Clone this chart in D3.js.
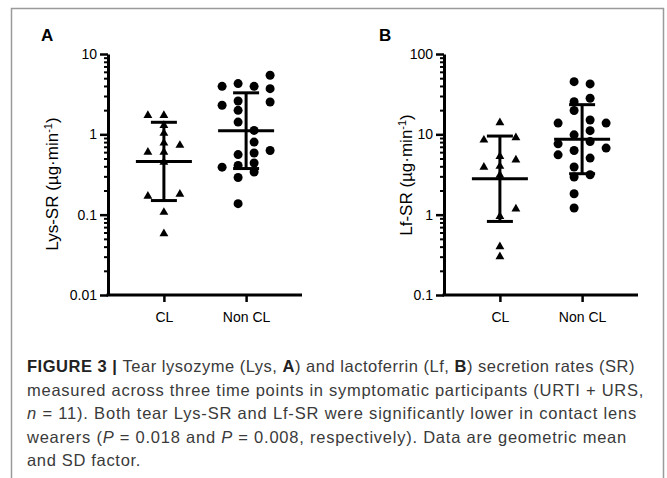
<!DOCTYPE html>
<html>
<head>
<meta charset="utf-8">
<script src="https://cdn.jsdelivr.net/npm/d3@7"></script>
<style>
  body { margin: 0; background: #fff; }
  svg { display: block; font-family: "Liberation Sans", Arial, sans-serif; }
</style>
</head>
<body>
<div class="chart"></div>
<script>
var svgWidth = 667;
var svgHeight = 478;

// categories and tick labels
var categories = ["CL", "Non CL"];
var lysTicks = ["0.01", "0.1", "1", "10"];
var lfTicks = ["0.1", "1", "10", "100"];

// Lys-SR (µg·min-1); lanes = column slot of each symbol
var lysCL     = [1.72, 1.72, 1.29, 1.03, 0.78, 0.73, 0.60, 0.60, 0.45, 0.17, 0.18, 0.107, 0.058];
var lysCLLane = [-1, 0, 0, 0, 0, 1, -1, 0, 0, -1, 1, 0, 0];
var lysNonCL     = [3.96, 4.28, 3.96, 5.43, 3.70, 2.30, 2.60, 2.53, 1.99, 1.42, 1.12, 0.80, 0.56, 0.585, 0.63, 0.39, 0.41, 0.44, 0.34, 0.29, 0.137];
var lysNonCLLane = [-1.5, -0.5, 0.5, 1.5, 1.5, -1.5, -0.5, 1.5, -0.5, -0.5, 0.5, 0.5, -0.5, 0.5, 1.5, -1.5, -0.5, 0.5, 0.5, -0.5, -0.5];
var lysGeoMean = [0.46, 1.11];
var lysSDFactor = [3.07, 2.96];

// Lf-SR (µg·min-1), panel B
var lfCL     = [14.0, 8.5, 9.1, 5.3, 4.8, 4.0, 3.9, 3.1, 0.95, 1.18, 0.40, 0.30];
var lfCLLane = [0, -1, 1, 0, 1, 0, -1, 0, 0, 1, 0, 0];
var lfNonCL     = [45.3, 42.4, 25.5, 28.1, 19.8, 13.8, 15.1, 13.8, 11.1, 9.86, 7.62, 8.14, 6.74, 5.56, 6.29, 5.06, 3.92, 2.94, 3.14, 1.82, 1.21];
var lfNonCLLane = [-0.5, 0.5, -0.5, 0.5, -0.5, -1.5, 0.5, 1.5, 0.5, -0.5, -1.5, 0.5, 1.5, -1.5, -0.5, 0.5, -0.5, -0.5, 0.5, -0.5, -0.5];
var lfGeoMean = [2.8, 8.7];
var lfSDFactor = [3.4, 2.69];

var svg = d3.select(".chart")
  .append("svg")
  .attr("width", svgWidth)
  .attr("height", svgHeight);

// figure frame (open at the bottom, runs off the page)
svg.append("rect")
  .attr("x", 11.5).attr("y", 8.5)
  .attr("width", 652).attr("height", 520)
  .attr("fill", "none")
  .attr("stroke", "#9a9a9a")
  .attr("stroke-width", 1.5);

function drawPanel(opt) {
  var g = svg.append("g");

  var y = d3.scaleLog()
    .domain([+opt.ticks[0], +opt.ticks[opt.ticks.length - 1]])
    .range([295, 54]);

  var x = d3.scalePoint()
    .domain(categories)
    .range([opt.left, opt.left + 194])
    .padding(0.68);

  var lane = d3.scaleLinear().domain([0, 1]).range([0, 16]);

  // minor ticks 2..9 in every decade
  var minor = [];
  for (var i = 0; i < opt.ticks.length - 1; i++) {
    for (var k = 2; k <= 9; k++) minor.push(+opt.ticks[i] * k);
  }

  g.append("g")
    .attr("transform", `translate(${opt.left}, 0)`)
    .call(d3.axisLeft(y).tickValues(minor).tickSize(4).tickFormat(""))
    .call(a => a.select(".domain").remove())
    .call(a => a.selectAll("line").attr("stroke-width", 2));

  var yAxis = g.append("g")
    .attr("transform", `translate(${opt.left}, 0)`)
    .call(d3.axisLeft(y)
      .tickValues(opt.ticks.map(Number))
      .tickFormat((d, i) => opt.ticks[i])
      .tickSize(8).tickSizeOuter(0).tickPadding(3));
  yAxis.select(".domain").attr("stroke-width", 3);
  yAxis.selectAll("line").attr("stroke-width", 2.5);
  yAxis.selectAll("text").attr("font-size", 14).attr("font-family", "Liberation Sans, Arial, sans-serif");

  var xAxis = g.append("g")
    .attr("transform", "translate(0, 295)")
    .call(d3.axisBottom(x).tickSize(7).tickSizeOuter(0).tickPadding(10));
  xAxis.select(".domain").attr("stroke-width", 3)
    .attr("d", `M${opt.left - 1.5},0H${opt.left + 194}`);
  xAxis.selectAll("line").attr("stroke-width", 2.5);
  xAxis.selectAll("text").attr("font-size", 14).attr("font-family", "Liberation Sans, Arial, sans-serif");

  // error bars: geometric mean and SD factor
  var stats = categories.map((c, i) => ({
    cat: c,
    mean: opt.mean[i],
    lo: opt.mean[i] / opt.sd[i],
    hi: opt.mean[i] * opt.sd[i]
  }));

  var bars = g.selectAll(".bar").data(stats).enter().append("g")
    .attr("class", "bar")
    .attr("stroke", "#000").attr("stroke-width", 3);
  bars.append("line")
    .attr("x1", d => x(d.cat)).attr("x2", d => x(d.cat))
    .attr("y1", d => y(d.hi)).attr("y2", d => y(d.lo));
  bars.append("line")
    .attr("x1", d => x(d.cat) - 28).attr("x2", d => x(d.cat) + 28)
    .attr("y1", d => y(d.mean)).attr("y2", d => y(d.mean));
  bars.append("line")
    .attr("x1", d => x(d.cat) - 13).attr("x2", d => x(d.cat) + 13)
    .attr("y1", d => y(d.hi)).attr("y2", d => y(d.hi));
  bars.append("line")
    .attr("x1", d => x(d.cat) - 13).attr("x2", d => x(d.cat) + 13)
    .attr("y1", d => y(d.lo)).attr("y2", d => y(d.lo));

  // triangles for CL
  var tri = d3.symbol().type(d3.symbolTriangle).size(34);
  g.selectAll(".tri")
    .data(opt.cl.map((v, i) => ({ v: v, lane: opt.clLane[i] })))
    .enter().append("path")
    .attr("class", "tri")
    .attr("d", tri)
    .attr("transform", d => `translate(${x(categories[0]) + lane(d.lane)}, ${y(d.v)})`)
    .attr("fill", "#000");

  // circles for Non CL
  g.selectAll(".dot")
    .data(opt.non.map((v, i) => ({ v: v, lane: opt.nonLane[i] })))
    .enter().append("circle")
    .attr("class", "dot")
    .attr("cx", d => x(categories[1]) + lane(d.lane))
    .attr("cy", d => y(d.v))
    .attr("r", 4.5)
    .attr("fill", "#000");

  // panel letter
  g.append("text")
    .attr("x", opt.letterX).attr("y", 41)
    .attr("font-size", 17).attr("font-weight", "bold")
    .text(opt.letter);

  // y axis label
  var lab = g.append("text")
    .attr("transform", `translate(${opt.labelX}, ${opt.labelY}) rotate(-90)`)
    .attr("text-anchor", "middle")
    .attr("font-size", 17);
  lab.append("tspan").text(opt.label + " (µg·min");
  lab.append("tspan").attr("dy", -6).attr("font-size", 11).text("-1");
  lab.append("tspan").attr("dy", 6).text(")");
}

drawPanel({
  left: 108, letter: "A", letterX: 41, label: "Lys-SR", labelX: 58, labelY: 184,
  ticks: lysTicks, cl: lysCL, clLane: lysCLLane, non: lysNonCL, nonLane: lysNonCLLane,
  mean: lysGeoMean, sd: lysSDFactor
});

drawPanel({
  left: 444, letter: "B", letterX: 379, label: "Lf-SR", labelX: 412, labelY: 175,
  ticks: lfTicks, cl: lfCL, clLane: lfCLLane, non: lfNonCL, nonLane: lfNonCLLane,
  mean: lfGeoMean, sd: lfSDFactor
});

// caption
var caption = [
  { w: 608, parts: [["FIGURE 3 | ", "b"], ["Tear lysozyme (Lys, "], ["A", "b"], [") and lactoferrin (Lf, "], ["B", "b"], [") secretion rates (SR)"]] },
  { w: 617, parts: [["measured across three time points in symptomatic participants (URTI + URS,"]] },
  { w: 610, parts: [["n", "i"], [" = 11). Both tear Lys-SR and Lf-SR were significantly lower in contact lens"]] },
  { w: 600, parts: [["wearers ("], ["P", "i"], [" = 0.018 and "], ["P", "i"], [" = 0.008, respectively). Data are geometric mean"]] },
  { w: 114, parts: [["and SD factor."]] }
];

caption.forEach(function(line, i) {
  var t = svg.append("text")
    .attr("x", 27)
    .attr("y", 372 + i * 23.5)
    .attr("font-size", 16.5)
    .attr("fill", "#3a3a3a");
  var n = 0;
  line.parts.forEach(function(p) {
    var s = t.append("tspan").text(p[0]);
    if (p[1] === "b") s.attr("font-weight", "bold").attr("fill", "#222");
    if (p[1] === "i") s.attr("font-style", "italic");
    n += p[0].length;
  });
  var w = t.node().getComputedTextLength();
  t.attr("letter-spacing", ((line.w - w) / n).toFixed(3));
});
</script>
</body>
</html>
